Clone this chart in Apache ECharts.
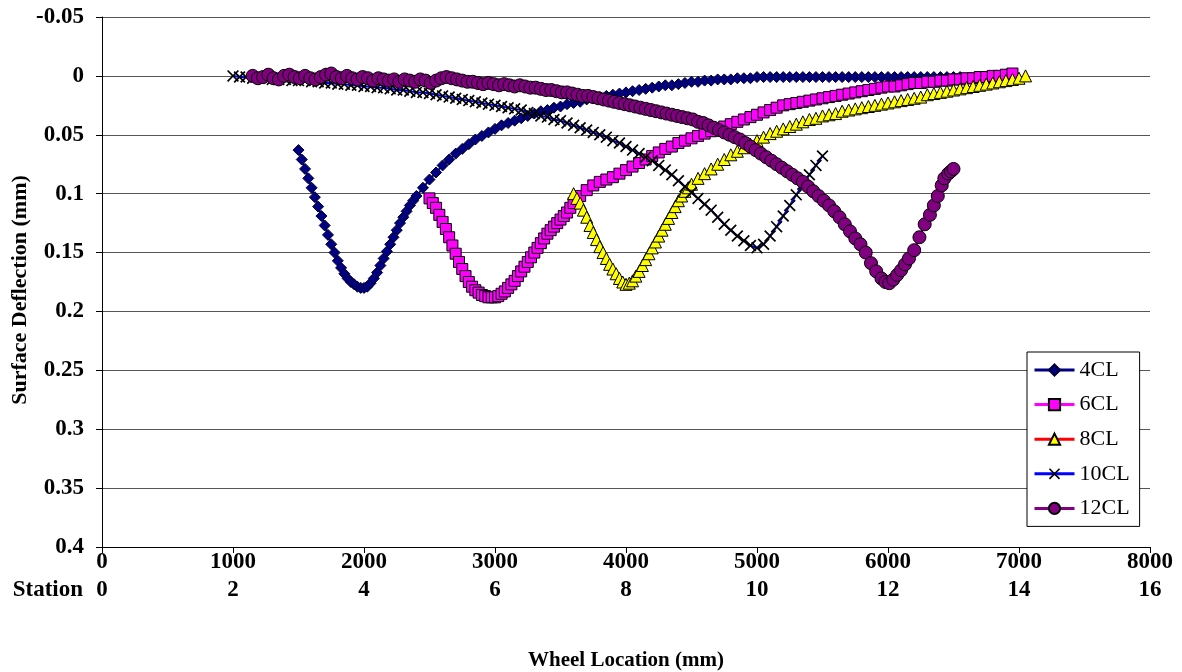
<!DOCTYPE html>
<html>
<head>
<meta charset="utf-8">
<title>Surface Deflection vs Wheel Location</title>
<script src="https://cdn.jsdelivr.net/npm/echarts@6/dist/echarts.min.js"></script>
<style>
  html, body { margin: 0; padding: 0; background: #ffffff; }
  #chart { width: 1182px; height: 672px; }
</style>
</head>
<body>
<div id="chart"></div>
<script>
// Tick labels
const xTickLabels = ['0', '1000', '2000', '3000', '4000', '5000', '6000', '7000', '8000'];
const stationLabels = ['0', '2', '4', '6', '8', '10', '12', '14', '16'];
const yTickLabels = ['-0.05', '0', '0.05', '0.1', '0.15', '0.2', '0.25', '0.3', '0.35', '0.4'];
const seriesNames = ['4CL', '6CL', '8CL', '10CL', '12CL'];

// Deflection readings [wheel location (mm), surface deflection (mm)]
const cl4 = [
  [1500,0.063],[1525,0.071],[1550,0.079],[1575,0.087],[1600,0.095],[1625,0.103],[1650,0.111],[1675,0.119],
  [1700,0.127],[1725,0.135],[1750,0.143],[1775,0.150],[1800,0.157],[1825,0.163],[1850,0.168],[1875,0.172],
  [1900,0.175],[1925,0.177],[1950,0.179],[1975,0.180],[2000,0.180],[2025,0.179],[2050,0.176],[2075,0.172],
  [2100,0.167],[2125,0.161],[2150,0.155],[2175,0.149],[2200,0.143],[2225,0.137],[2250,0.131],[2275,0.125],
  [2300,0.120],[2325,0.115],[2350,0.110],[2375,0.106],[2400,0.102],[2450,0.095],[2500,0.088],[2550,0.082],
  [2600,0.076],[2650,0.071],[2700,0.066],[2750,0.062],[2800,0.058],[2850,0.054],[2900,0.051],[2950,0.048],
  [3000,0.045],[3050,0.042],[3100,0.040],[3150,0.038],[3200,0.036],[3250,0.034],[3300,0.032],[3350,0.030],
  [3400,0.029],[3450,0.027],[3500,0.026],[3550,0.024],[3600,0.023],[3650,0.022],[3700,0.020],[3750,0.019],
  [3800,0.018],[3850,0.017],[3900,0.016],[3950,0.015],[4000,0.014],[4050,0.013],[4100,0.012],[4150,0.011],
  [4200,0.010],[4250,0.009],[4300,0.008],[4350,0.008],[4400,0.007],[4450,0.006],[4500,0.005],[4550,0.005],
  [4600,0.004],[4650,0.004],[4700,0.003],[4750,0.003],[4800,0.003],[4850,0.002],[4900,0.002],[4950,0.002],
  [5000,0.001],[5050,0.001],[5100,0.001],[5150,0.001],[5200,0.001],[5250,0.001],[5300,0.001],[5350,0.001],
  [5400,0.001],[5450,0.001],[5500,0.001],[5550,0.001],[5600,0.001],[5650,0.001],[5700,0.001],[5750,0.001],
  [5800,0.001],[5850,0.001],[5900,0.001],[5950,0.001],[6000,0.001],[6050,0.001],[6100,0.001],[6150,0.001],
  [6200,0.001],[6250,0.001],[6300,0.001],[6350,0.001],[6400,0.001],[6450,0.001],[6500,0.001],[6550,0.001]
];
const cl6 = [
  [2500,0.104],[2525,0.108],[2550,0.112],[2575,0.118],[2600,0.124],[2625,0.130],[2650,0.137],[2675,0.144],
  [2700,0.151],[2725,0.158],[2750,0.164],[2775,0.170],[2800,0.175],[2825,0.179],[2850,0.182],[2875,0.184],
  [2900,0.186],[2925,0.187],[2950,0.188],[2975,0.188],[3000,0.188],[3025,0.187],[3050,0.185],[3075,0.183],
  [3100,0.180],[3125,0.177],[3150,0.174],[3175,0.170],[3200,0.166],[3225,0.162],[3250,0.158],[3275,0.154],
  [3300,0.150],[3325,0.146],[3350,0.142],[3375,0.138],[3400,0.134],[3425,0.131],[3450,0.128],[3475,0.125],
  [3500,0.122],[3525,0.119],[3550,0.116],[3575,0.112],[3600,0.108],[3650,0.102],[3700,0.097],[3750,0.093],
  [3800,0.090],[3850,0.088],[3900,0.086],[3950,0.083],[4000,0.080],[4050,0.077],[4100,0.074],[4150,0.071],
  [4200,0.068],[4250,0.065],[4300,0.062],[4350,0.060],[4400,0.057],[4450,0.055],[4500,0.053],[4550,0.051],
  [4600,0.049],[4650,0.047],[4700,0.045],[4750,0.043],[4800,0.041],[4850,0.039],[4900,0.037],[4950,0.035],
  [5000,0.033],[5050,0.031],[5100,0.029],[5150,0.027],[5200,0.025],[5250,0.024],[5300,0.023],[5350,0.022],
  [5400,0.021],[5450,0.020],[5500,0.019],[5550,0.018],[5600,0.017],[5650,0.016],[5700,0.015],[5750,0.014],
  [5800,0.013],[5850,0.012],[5900,0.011],[5950,0.010],[6000,0.009],[6050,0.009],[6100,0.008],[6150,0.007],
  [6200,0.006],[6250,0.006],[6300,0.005],[6350,0.005],[6400,0.004],[6450,0.004],[6500,0.003],[6550,0.003],
  [6600,0.002],[6650,0.002],[6700,0.001],[6750,0.001],[6800,0.000],[6850,0.000],[6900,-0.001],[6950,-0.002]
];
const cl8 = [
  [3600,0.100],[3625,0.104],[3650,0.108],[3675,0.114],[3700,0.120],[3725,0.127],[3750,0.133],[3775,0.139],
  [3800,0.145],[3825,0.150],[3850,0.155],[3875,0.160],[3900,0.164],[3925,0.168],[3950,0.172],[3975,0.175],
  [4000,0.177],[4025,0.176],[4050,0.174],[4075,0.170],[4100,0.166],[4125,0.161],[4150,0.156],[4175,0.151],
  [4200,0.146],[4225,0.141],[4250,0.136],[4275,0.131],[4300,0.126],[4325,0.121],[4350,0.116],[4375,0.111],
  [4400,0.106],[4425,0.102],[4450,0.098],[4475,0.095],[4500,0.092],[4550,0.087],[4600,0.083],[4650,0.079],
  [4700,0.075],[4750,0.071],[4800,0.067],[4850,0.064],[4900,0.061],[4950,0.058],[5000,0.055],[5050,0.052],
  [5100,0.049],[5150,0.047],[5200,0.045],[5250,0.043],[5300,0.041],[5350,0.039],[5400,0.037],[5450,0.036],
  [5500,0.034],[5550,0.033],[5600,0.032],[5650,0.030],[5700,0.029],[5750,0.028],[5800,0.027],[5850,0.026],
  [5900,0.025],[5950,0.024],[6000,0.023],[6050,0.022],[6100,0.021],[6150,0.020],[6200,0.019],[6250,0.018],
  [6300,0.016],[6350,0.015],[6400,0.014],[6450,0.013],[6500,0.012],[6550,0.011],[6600,0.010],[6650,0.009],
  [6700,0.008],[6750,0.007],[6800,0.006],[6850,0.005],[6900,0.004],[6950,0.003],[7000,0.002],[7050,0.000]
];
const cl10 = [
  [1000,0.000],[1050,0.001],[1100,0.001],[1150,0.002],[1200,0.002],[1250,0.002],[1300,0.003],[1350,0.003],
  [1400,0.003],[1450,0.004],[1500,0.004],[1550,0.004],[1600,0.005],[1650,0.005],[1700,0.006],[1750,0.006],
  [1800,0.007],[1850,0.007],[1900,0.008],[1950,0.008],[2000,0.009],[2050,0.009],[2100,0.010],[2150,0.010],
  [2200,0.011],[2250,0.012],[2300,0.012],[2350,0.013],[2400,0.014],[2450,0.014],[2500,0.015],[2550,0.016],
  [2600,0.017],[2650,0.018],[2700,0.019],[2750,0.020],[2800,0.021],[2850,0.022],[2900,0.023],[2950,0.024],
  [3000,0.025],[3050,0.026],[3100,0.027],[3150,0.028],[3200,0.029],[3250,0.031],[3300,0.032],[3350,0.034],
  [3400,0.035],[3450,0.037],[3500,0.038],[3550,0.040],[3600,0.042],[3650,0.044],[3700,0.046],[3750,0.048],
  [3800,0.050],[3850,0.052],[3900,0.055],[3950,0.057],[4000,0.060],[4050,0.063],[4100,0.066],[4150,0.069],
  [4200,0.072],[4250,0.076],[4300,0.080],[4350,0.084],[4400,0.089],[4450,0.094],[4500,0.099],[4550,0.104],
  [4600,0.109],[4650,0.114],[4700,0.120],[4750,0.126],[4800,0.131],[4850,0.136],[4900,0.140],[4950,0.144],
  [5000,0.146],[5050,0.143],[5100,0.136],[5150,0.128],[5200,0.119],[5250,0.110],[5300,0.101],[5350,0.092],
  [5400,0.084],[5450,0.076],[5500,0.068]
];
const cl12 = [
  [1150,0.000],[1190,0.002],[1230,0.001],[1270,-0.001],[1310,0.002],[1350,0.003],[1390,0.000],[1430,-0.001],
  [1470,0.001],[1510,0.002],[1550,0.000],[1590,0.002],[1630,0.003],[1670,0.001],[1710,-0.001],[1750,-0.002],
  [1790,0.001],[1830,0.002],[1870,0.000],[1910,0.002],[1950,0.003],[1990,0.001],[2030,0.002],[2070,0.004],
  [2110,0.002],[2150,0.003],[2190,0.004],[2230,0.003],[2270,0.005],[2310,0.003],[2350,0.004],[2390,0.005],
  [2430,0.003],[2470,0.004],[2510,0.006],[2550,0.004],[2590,0.002],[2630,0.001],[2670,0.002],[2710,0.003],
  [2750,0.004],[2790,0.005],[2830,0.005],[2870,0.006],[2910,0.007],[2950,0.006],[2990,0.007],[3030,0.008],
  [3070,0.007],[3110,0.008],[3150,0.009],[3190,0.008],[3230,0.009],[3270,0.010],[3310,0.010],[3350,0.011],
  [3390,0.012],[3430,0.012],[3470,0.013],[3510,0.014],[3550,0.014],[3590,0.015],[3630,0.016],[3670,0.017],
  [3710,0.017],[3750,0.018],[3790,0.019],[3830,0.020],[3870,0.021],[3910,0.022],[3950,0.023],[3990,0.024],
  [4030,0.025],[4070,0.026],[4110,0.027],[4150,0.028],[4190,0.029],[4230,0.030],[4270,0.031],[4310,0.032],
  [4350,0.033],[4390,0.034],[4430,0.035],[4470,0.036],[4510,0.037],[4550,0.039],[4590,0.040],[4630,0.042],
  [4670,0.044],[4710,0.046],[4750,0.048],[4790,0.050],[4830,0.052],[4870,0.054],[4910,0.057],[4950,0.060],
  [4990,0.063],[5030,0.066],[5070,0.069],[5110,0.072],[5150,0.075],[5190,0.078],[5230,0.081],[5270,0.084],
  [5310,0.087],[5350,0.090],[5390,0.094],[5430,0.098],[5470,0.102],[5510,0.106],[5550,0.110],[5590,0.115],
  [5630,0.120],[5670,0.126],[5710,0.132],[5750,0.138],[5790,0.143],[5830,0.150],[5870,0.159],[5910,0.166],
  [5950,0.172],[5980,0.175],[6010,0.176],[6040,0.173],[6070,0.169],[6100,0.165],[6130,0.160],[6160,0.155],
  [6200,0.148],[6240,0.137],[6280,0.126],[6320,0.118],[6350,0.110],[6380,0.102],[6410,0.093],[6430,0.087],
  [6460,0.083],[6480,0.081],[6500,0.079]
];

const SERIF = '"Liberation Serif", "Times New Roman", serif';
const LABEL_SIZE = 23;
const crossPath = 'path://M0,1L1,0L5,4L9,0L10,1L6,5L10,9L9,10L5,6L1,10L0,9L4,5Z';

function lineSeries(name, data, lineColor, symbol, size, fill, border) {
  return {
    name: name,
    type: 'line',
    data: data,
    symbol: symbol,
    symbolSize: size,
    showSymbol: true,
    lineStyle: { color: lineColor, width: 2 },
    itemStyle: { color: fill, borderColor: border, borderWidth: border ? 1 : 0 },
    emphasis: { disabled: true },
    animation: false
  };
}

const chart = echarts.init(document.getElementById('chart'), null, { renderer: 'canvas' });
chart.setOption({
  backgroundColor: '#ffffff',
  animation: false,
  grid: { left: 102, right: 32, top: 17, bottom: 125, containLabel: false },
  xAxis: [
    {
      type: 'value', min: 0, max: 8000, interval: 1000, position: 'bottom',
      axisLine: { onZero: false, lineStyle: { color: '#000', width: 1 } },
      axisTick: { show: true, inside: false, length: 6, lineStyle: { color: '#000' } },
      splitLine: { show: false },
      axisLabel: {
        margin: 4, color: '#000', fontFamily: SERIF, fontWeight: 'bold', fontSize: LABEL_SIZE,
        formatter: (v) => xTickLabels[Math.round(v / 1000)]
      }
    },
    {
      type: 'value', min: 0, max: 16, interval: 2, position: 'bottom', offset: 28,
      axisLine: { show: false }, axisTick: { show: false }, splitLine: { show: false },
      axisLabel: {
        margin: 4, color: '#000', fontFamily: SERIF, fontWeight: 'bold', fontSize: LABEL_SIZE,
        formatter: (v) => stationLabels[Math.round(v / 2)]
      }
    }
  ],
  yAxis: {
    type: 'value', inverse: true, min: -0.05, max: 0.4, interval: 0.05,
    axisLine: { show: true, onZero: false, lineStyle: { color: '#000', width: 1 } },
    axisTick: { show: true, inside: false, length: 6, lineStyle: { color: '#000' } },
    splitLine: { show: true, lineStyle: { color: '#555555', width: 1 } },
    axisLabel: {
      margin: 18, color: '#000', fontFamily: SERIF, fontWeight: 'bold', fontSize: LABEL_SIZE,
      formatter: (v) => yTickLabels[Math.round((v + 0.05) / 0.05)]
    }
  },
  legend: {
    orient: 'vertical', left: 1027, top: 352,
    padding: [7, 10, 7, 6], itemGap: 12.6, itemWidth: 40, itemHeight: 14,
    backgroundColor: '#ffffff', borderColor: '#000', borderWidth: 1,
    lineStyle: { width: 3 },
    textStyle: { fontFamily: SERIF, fontSize: 22, color: '#000', lineHeight: 22 },
    data: seriesNames
  },
  graphic: [
    {
      type: 'text', x: 83, y: 590,
      style: { text: 'Station', fontFamily: SERIF, fontWeight: 'bold', fontSize: LABEL_SIZE, fill: '#000', align: 'right', verticalAlign: 'middle' }
    },
    {
      type: 'text', x: 626, y: 661,
      style: { text: 'Wheel Location (mm)', fontFamily: SERIF, fontWeight: 'bold', fontSize: 21, fill: '#000', align: 'center', verticalAlign: 'middle' }
    },
    {
      type: 'text', x: 20, y: 290, rotation: Math.PI / 2,
      style: { text: 'Surface Deflection (mm)', fontFamily: SERIF, fontWeight: 'bold', fontSize: 22, fill: '#000', align: 'center', verticalAlign: 'middle' }
    }
  ],
  series: [
    lineSeries(seriesNames[0], cl4, '#000080', 'diamond', 11, '#000080', '#000033'),
    lineSeries(seriesNames[1], cl6, '#FF00FF', 'rect', 11, '#FF00FF', '#000000'),
    lineSeries(seriesNames[2], cl8, '#FF0000', 'triangle', 12, '#FFFF00', '#000000'),
    lineSeries(seriesNames[3], cl10, '#0000FF', crossPath, 12, '#000000', null),
    lineSeries(seriesNames[4], cl12, '#800080', 'circle', 13, '#800080', '#000000')
  ]
});
</script>
</body>
</html>
